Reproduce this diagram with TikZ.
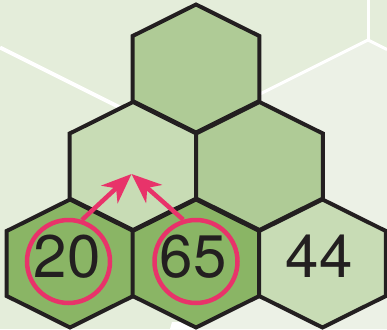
\documentclass[tikz,border=0pt]{standalone}
\usepackage{fontspec}
\setmainfont{TeX Gyre Heros}
\usetikzlibrary{arrows.meta}
\definecolor{ink}{HTML}{231F20}
\definecolor{rose}{HTML}{E8336A}
\definecolor{backdrop}{HTML}{E4EDDA}
\definecolor{paleback}{HTML}{ECF1E6}
\definecolor{deepgreen}{HTML}{8AB565}
\definecolor{midgreen}{HTML}{AFCB96}
\definecolor{palegreen}{HTML}{C8DCB5}

\begin{document}
\begin{tikzpicture}[x=1pt,y=-1pt,
  hexline/.style={draw=ink,line width=4pt},
  ring/.style={circle,draw=rose,line width=4.5pt,minimum size=83pt,inner sep=0pt},
  digit/.style={font=\fontsize{60}{60}\selectfont,text=ink,inner sep=0pt},
  pointer/.style={-{Stealth[length=30pt,width=24pt,inset=9pt]},draw=rose,line width=4.5pt}]
  \useasboundingbox (0,0) rectangle (387,329);

  % Background: two tones split by white grid lines.
  \fill[backdrop] (0,0) rectangle (387,329);
  \fill[paleback] (196,126) -- (368,40) -- (387,50) -- (387,329) -- (196,329) -- cycle;
  \draw[white,line width=4pt] (0,47.5) -- (196,145.5);
  \draw[white,line width=3pt] (196,126) -- (368,40) -- (387,49.5);
  \draw[white,line width=3pt] (368,0) -- (368,40);
  \fill[white] (170,329) -- (172,322) -- (200,322) -- (200,329) -- cycle;

  % Pyramid of hexagonal cells.
  \foreach \cx/\cy/\col in {196/68.5/midgreen,133/166/palegreen,259.5/166/midgreen,
    70/263.5/deepgreen,196/263.5/deepgreen,322.5/263.5/palegreen}{
    \draw[hexline,fill=\col] (\cx,\cy-64) -- (\cx+63.3,\cy-32.5) -- (\cx+63.3,\cy+32.5)
      -- (\cx,\cy+64) -- (\cx-63.3,\cy+32.5) -- (\cx-63.3,\cy-32.5) -- cycle;
  }

  % Values in the bottom row.
  \node[digit] (n20) at (67,256.5) {20};
  \node[digit] (n65) at (193,256.5) {65};
  \node[digit] (n44) at (319,256.5) {44};

  % Circled pair feeding the cell above.
  \node[ring] (c20) at (68.5,261.5) {};
  \node[ring] (c65) at (196,261.5) {};
  \coordinate (apex) at (131.5,174);
  \draw[pointer] (c20.72) -- (apex);
  \draw[pointer] (c65.107) -- (apex);
\end{tikzpicture}
\end{document}
